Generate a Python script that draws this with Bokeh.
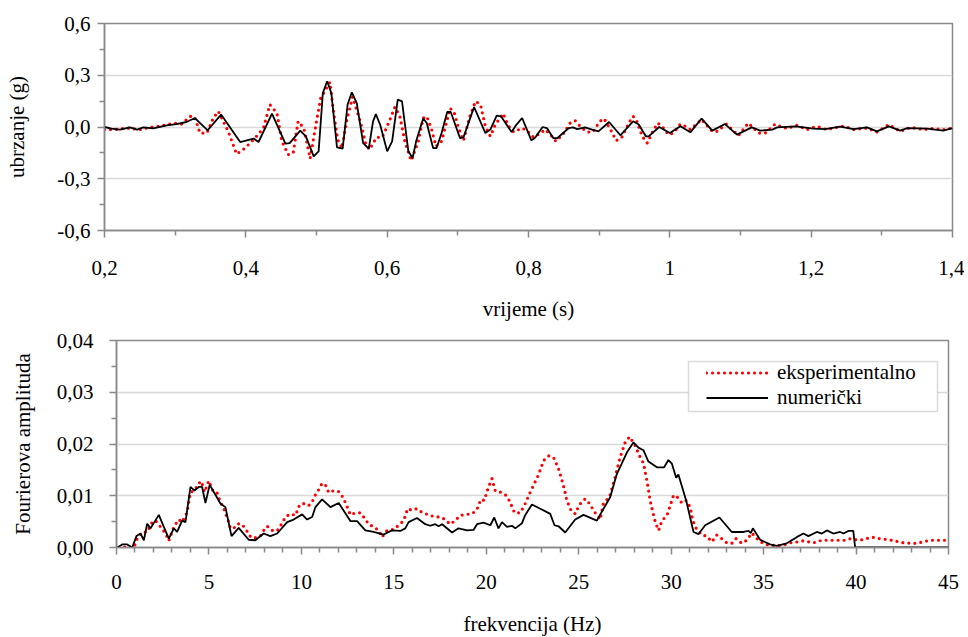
import numpy as np
from bokeh.plotting import figure
from bokeh.layouts import column
from bokeh.models import Range1d, FixedTicker, Legend, LegendItem, BoxAnnotation
from bokeh.embed import file_html
from bokeh.resources import INLINE

# ---------------- data: time history (top) ----------------
t_num = [0.200, 0.210, 0.222, 0.236, 0.246, 0.255, 0.269, 0.288, 0.302, 0.316,
         0.328, 0.346, 0.365, 0.392, 0.411, 0.418, 0.437, 0.456, 0.462, 0.477,
         0.485, 0.496, 0.503, 0.509, 0.515, 0.521, 0.529, 0.537, 0.544, 0.550,
         0.557, 0.566, 0.574, 0.580, 0.584, 0.590, 0.600, 0.607, 0.615, 0.621,
         0.630, 0.636, 0.641, 0.651, 0.656, 0.665, 0.670, 0.677, 0.685, 0.690,
         0.703, 0.708, 0.723, 0.739, 0.746, 0.755, 0.761, 0.776, 0.783, 0.791,
         0.804, 0.809, 0.820, 0.826, 0.835, 0.841, 0.857, 0.863, 0.869, 0.880,
         0.890, 0.899, 0.914, 0.930, 0.948, 0.956, 0.966, 0.970, 0.985, 1.000,
         1.015, 1.029, 1.045, 1.060, 1.078, 1.095, 1.116, 1.128, 1.145, 1.152,
         1.178, 1.203, 1.220, 1.241, 1.260, 1.279, 1.293, 1.310, 1.326, 1.336,
         1.364, 1.387, 1.400]
a_num = [0.000, -0.009, -0.015, -0.002, -0.015, -0.002, -0.008, 0.010, 0.017, 0.029,
         0.052, -0.019, 0.072, -0.087, -0.067, -0.087, 0.078, -0.096, -0.093, -0.021,
         -0.054, -0.170, -0.141, 0.197, 0.265, 0.197, -0.118, -0.125, 0.130, 0.201,
         0.139, -0.093, -0.125, 0.033, 0.075, 0.014, -0.141, -0.083, 0.159, 0.149,
         -0.141, -0.180, -0.083, 0.049, 0.023, -0.122, -0.122, -0.035, 0.087, 0.087,
         -0.064, -0.060, 0.116, -0.035, -0.015, 0.066, 0.062, -0.029, 0.014, 0.052,
         -0.077, -0.064, 0.000, -0.006, -0.064, -0.064, -0.006, -0.002, -0.012, -0.002,
         -0.015, -0.025, 0.029, -0.048, 0.033, 0.014, -0.054, -0.054, 0.000, -0.035,
         0.004, -0.031, 0.049, -0.021, 0.017, -0.044, -0.002, -0.021, -0.015, -0.002,
         0.004, -0.009, -0.012, 0.002, -0.012, -0.002, -0.025, 0.004, -0.021, -0.006,
         -0.009, -0.021, -0.006]

t_exp = [0.200, 0.215, 0.232, 0.250, 0.265, 0.283, 0.298, 0.309, 0.321, 0.328,
         0.335, 0.345, 0.354, 0.361, 0.375, 0.387, 0.399, 0.413, 0.425, 0.434,
         0.444, 0.451, 0.460, 0.467, 0.474, 0.482, 0.491, 0.500, 0.506, 0.519,
         0.524, 0.530, 0.536, 0.543, 0.551, 0.562, 0.570, 0.575, 0.585, 0.593,
         0.602, 0.611, 0.618, 0.625, 0.634, 0.644, 0.651, 0.656, 0.663, 0.669,
         0.677, 0.685, 0.689, 0.695, 0.701, 0.708, 0.717, 0.725, 0.732, 0.739,
         0.746, 0.753, 0.764, 0.772, 0.779, 0.791, 0.799, 0.807, 0.817, 0.824,
         0.833, 0.839, 0.850, 0.859, 0.866, 0.873, 0.883, 0.891, 0.901, 0.907,
         0.918, 0.924, 0.932, 0.942, 0.948, 0.953, 0.961, 0.968, 0.976, 0.983,
         0.991, 0.998, 1.005, 1.015, 1.022, 1.029, 1.045, 1.060, 1.067, 1.080,
         1.097, 1.111, 1.126, 1.135, 1.149, 1.156, 1.166, 1.180, 1.194, 1.208,
         1.222, 1.246, 1.260, 1.279, 1.293, 1.310, 1.326, 1.341, 1.359, 1.373,
         1.387, 1.400]
a_exp = [-0.015, -0.015, -0.006, -0.015, -0.002, 0.008, 0.023, 0.017, 0.062, 0.056,
         -0.035, -0.035, 0.052, 0.091, -0.025, -0.157, -0.122, -0.064, -0.006, 0.130,
         0.081, -0.083, -0.160, -0.151, 0.033, -0.006, -0.183, 0.033, 0.168, 0.260,
         0.091, -0.073, -0.122, 0.043, 0.174, 0.033, -0.102, -0.131, -0.060, -0.060,
         0.023, 0.116, 0.062, -0.083, -0.195, -0.083, 0.052, 0.062, -0.015, -0.112,
         -0.083, 0.043, 0.110, 0.081, -0.006, -0.079, 0.062, 0.149, 0.130, 0.004,
         -0.054, 0.014, 0.078, 0.004, -0.029, -0.006, -0.025, -0.060, -0.035, -0.015,
         -0.054, -0.083, -0.035, 0.023, 0.037, 0.004, -0.029, -0.029, 0.033, 0.049,
         -0.029, -0.079, -0.060, 0.023, 0.062, 0.037, -0.054, -0.093, -0.025, 0.023,
         -0.006, -0.044, -0.035, 0.017, 0.004, -0.015, 0.043, -0.025, -0.025, 0.017,
         -0.050, 0.023, -0.035, -0.035, 0.017, 0.004, -0.009, 0.010, -0.015, 0.004,
         -0.015, 0.006, -0.015, -0.006, -0.029, 0.014, -0.025, -0.002, -0.015, -0.009,
         -0.015, -0.006]

# ---------------- data: Fourier spectrum (bottom) ----------------
f_num = [0.04, 0.31, 0.58, 0.85, 1.08, 1.30, 1.48, 1.66, 1.84, 2.29,
         2.56, 2.83, 3.10, 3.28, 3.55, 3.73, 4.00, 4.22, 4.45, 4.63,
         4.81, 5.04, 5.35, 5.62, 5.89, 6.22, 6.61, 7.15, 7.51, 7.96,
         8.32, 8.69, 9.23, 9.58, 10.04, 10.31, 10.58, 10.76, 11.12, 11.57,
         12.02, 12.65, 13.01, 13.46, 13.91, 14.45, 14.90, 15.35, 15.62, 15.80,
         16.25, 16.70, 16.97, 17.24, 17.42, 17.61, 18.15, 18.50, 18.96, 19.31,
         19.50, 19.85, 20.22, 20.43, 20.66, 20.85, 21.12, 21.39, 21.57, 21.93,
         22.11, 22.47, 22.92, 23.46, 23.69, 23.91, 24.27, 24.81, 25.26, 25.98,
         26.34, 26.70, 27.06, 27.61, 27.96, 28.23, 28.50, 28.77, 29.23, 29.62,
         29.85, 30.04, 30.27, 30.39, 30.81, 31.21, 31.48, 31.84, 32.61, 33.28,
         33.91, 34.18, 34.31, 34.42, 34.81, 35.35, 35.71, 36.25, 36.79, 37.15,
         37.42, 37.88, 38.15, 38.42, 38.77, 39.14, 39.32, 39.58, 39.85, 39.95,
         45.00]
amp_num = [0.0000, 0.0006, 0.0006, 0.0000, 0.0022, 0.0027, 0.0014, 0.0046, 0.0037, 0.0063,
           0.0040, 0.0017, 0.0037, 0.0030, 0.0052, 0.0049, 0.0117, 0.0110, 0.0117, 0.0117,
           0.0086, 0.0121, 0.0102, 0.0085, 0.0078, 0.0022, 0.0038, 0.0015, 0.0014, 0.0027,
           0.0022, 0.0027, 0.0049, 0.0054, 0.0064, 0.0054, 0.0059, 0.0078, 0.0093, 0.0078,
           0.0086, 0.0051, 0.0051, 0.0033, 0.0030, 0.0025, 0.0033, 0.0032, 0.0037, 0.0049,
           0.0057, 0.0045, 0.0042, 0.0045, 0.0041, 0.0045, 0.0029, 0.0037, 0.0033, 0.0034,
           0.0045, 0.0048, 0.0043, 0.0058, 0.0037, 0.0049, 0.0040, 0.0042, 0.0037, 0.0047,
           0.0063, 0.0083, 0.0075, 0.0065, 0.0043, 0.0041, 0.0029, 0.0054, 0.0063, 0.0052,
           0.0075, 0.0097, 0.0142, 0.0184, 0.0203, 0.0193, 0.0188, 0.0166, 0.0155, 0.0155,
           0.0169, 0.0162, 0.0135, 0.0141, 0.0091, 0.0030, 0.0026, 0.0043, 0.0058, 0.0030,
           0.0030, 0.0032, 0.0028, 0.0037, 0.0015, 0.0006, 0.0003, 0.0008, 0.0020, 0.0027,
           0.0022, 0.0030, 0.0027, 0.0033, 0.0027, 0.0030, 0.0027, 0.0032, 0.0032, 0.0000,
           0.0000]

f_exp = [0.12, 0.39, 0.94, 1.12, 1.39, 1.66, 1.93, 2.11, 2.38, 2.65,
         2.83, 3.10, 3.37, 3.55, 3.82, 4.00, 4.22, 4.45, 4.59, 4.76,
         4.99, 5.21, 5.41, 5.62, 5.84, 6.07, 6.16, 6.34, 6.56, 6.79,
         7.03, 7.28, 7.61, 7.78, 7.96, 8.15, 8.42, 8.69, 8.96, 9.14,
         9.41, 9.68, 9.91, 10.16, 10.39, 10.58, 10.76, 10.94, 11.12, 11.30,
         11.48, 11.75, 12.02, 12.25, 12.47, 12.65, 12.92, 13.19, 13.37, 13.64,
         13.91, 14.18, 14.36, 14.63, 14.99, 15.26, 15.53, 15.75, 15.98, 16.25,
         16.52, 16.88, 17.24, 17.51, 17.78, 18.05, 18.32, 18.59, 18.96, 19.23,
         19.50, 19.71, 19.89, 20.12, 20.31, 20.49, 20.76, 21.03, 21.26, 21.53,
         21.84, 22.11, 22.38, 22.59, 22.83, 23.10, 23.37, 23.64, 23.91, 24.15,
         24.36, 24.58, 24.81, 25.04, 25.35, 25.58, 25.89, 26.16, 26.34, 26.66,
         26.97, 27.24, 27.51, 27.75, 28.05, 28.29, 28.50, 28.72, 28.86, 29.14,
         29.32, 29.50, 29.77, 29.95, 30.13, 30.34, 30.58, 30.81, 31.03, 31.17,
         31.35, 31.66, 31.93, 32.20, 32.47, 32.74, 33.01, 33.28, 33.51, 33.82,
         34.09, 34.36, 34.72, 35.08, 35.53, 35.98, 36.43, 36.88, 37.15, 37.69,
         38.15, 38.77, 39.41, 39.68, 40.22, 40.85, 41.30, 41.94, 42.56, 43.28,
         43.64, 44.00, 45.00]
amp_exp = [0.0000, 0.0001, 0.0000, 0.0017, 0.0030, 0.0030, 0.0049, 0.0052, 0.0040, 0.0027,
           0.0013, 0.0040, 0.0054, 0.0049, 0.0068, 0.0107, 0.0110, 0.0124, 0.0128, 0.0107,
           0.0129, 0.0110, 0.0108, 0.0088, 0.0072, 0.0049, 0.0037, 0.0037, 0.0046, 0.0045,
           0.0033, 0.0019, 0.0019, 0.0022, 0.0033, 0.0041, 0.0033, 0.0032, 0.0047, 0.0059,
           0.0065, 0.0062, 0.0083, 0.0085, 0.0081, 0.0088, 0.0102, 0.0112, 0.0124, 0.0121,
           0.0106, 0.0110, 0.0108, 0.0097, 0.0079, 0.0063, 0.0067, 0.0067, 0.0059, 0.0045,
           0.0040, 0.0033, 0.0020, 0.0033, 0.0035, 0.0043, 0.0052, 0.0075, 0.0072, 0.0075,
           0.0068, 0.0063, 0.0059, 0.0059, 0.0054, 0.0045, 0.0052, 0.0062, 0.0064, 0.0065,
           0.0074, 0.0093, 0.0091, 0.0117, 0.0133, 0.0109, 0.0107, 0.0102, 0.0090, 0.0067,
           0.0067, 0.0085, 0.0107, 0.0123, 0.0141, 0.0168, 0.0177, 0.0174, 0.0152, 0.0123,
           0.0091, 0.0072, 0.0065, 0.0083, 0.0094, 0.0085, 0.0067, 0.0054, 0.0086, 0.0097,
           0.0136, 0.0174, 0.0203, 0.0214, 0.0197, 0.0177, 0.0163, 0.0123, 0.0091, 0.0049,
           0.0033, 0.0052, 0.0062, 0.0081, 0.0101, 0.0097, 0.0086, 0.0091, 0.0078, 0.0052,
           0.0037, 0.0024, 0.0022, 0.0011, 0.0024, 0.0017, 0.0009, 0.0008, 0.0017, 0.0008,
           0.0014, 0.0028, 0.0014, 0.0006, 0.0004, 0.0004, 0.0009, 0.0011, 0.0013, 0.0009,
           0.0014, 0.0014, 0.0014, 0.0017, 0.0014, 0.0020, 0.0017, 0.0014, 0.0009, 0.0008,
           0.0011, 0.0014, 0.0014]

# ---------------- ticks & labels ----------------
t_ticks = [0.2, 0.4, 0.6, 0.8, 1.0, 1.2, 1.4]
t_tick_labels = ["0,2", "0,4", "0,6", "0,8", "1", "1,2", "1,4"]
t_minor = [0.3, 0.5, 0.7, 0.9, 1.1, 1.3]
a_ticks = [-0.6, -0.3, 0.0, 0.3, 0.6]
a_tick_labels = ["-0,6", "-0,3", "0,0", "0,3", "0,6"]
a_minor = [-0.45, -0.15, 0.15, 0.45]
f_ticks = [0, 5, 10, 15, 20, 25, 30, 35, 40, 45]
f_tick_labels = ["0", "5", "10", "15", "20", "25", "30", "35", "40", "45"]
f_minor = [v for v in range(1, 45) if v % 5]
amp_ticks = [0.0, 0.01, 0.02, 0.03, 0.04]
amp_tick_labels = ["0,00", "0,01", "0,02", "0,03", "0,04"]
amp_minor = [0.005, 0.015, 0.025, 0.035]

series_names = ["eksperimentalno", "numerički"]

assert len(t_num) == len(a_num)
assert len(t_exp) == len(a_exp)
assert len(f_num) == len(amp_num)
assert len(f_exp) == len(amp_exp)

FONT = "Liberation Serif"
FS = "21px"
AX = "#898989"
GRID = "#D9D9D9"
RED = "#FF0000"


def style(p, xticks, xlabels, xminor, yticks, ylabels, yminor,
          xlab, ylab, xstand, xlabstand, ystand, ylabstand):
    p.background_fill_color = "white"
    p.border_fill_color = "white"
    p.outline_line_color = AX
    p.outline_line_width = 1.5
    if "frame_align" in p.properties():
        p.frame_align = False
    p.xaxis.ticker = FixedTicker(ticks=xticks, minor_ticks=xminor)
    p.yaxis.ticker = FixedTicker(ticks=yticks, minor_ticks=yminor)
    p.xaxis.major_label_overrides = dict(zip(xticks, xlabels))
    p.yaxis.major_label_overrides = dict(zip(yticks, ylabels))
    p.xgrid.visible = False
    p.ygrid.ticker = FixedTicker(ticks=yticks)
    p.ygrid.grid_line_color = GRID
    p.ygrid.grid_line_width = 1.5
    for ax in (p.xaxis[0], p.yaxis[0]):
        ax.axis_line_color = AX
        ax.axis_line_width = 1.5
        ax.major_tick_line_color = AX
        ax.minor_tick_line_color = AX
        ax.major_tick_line_width = 1.5
        ax.minor_tick_line_width = 1.5
        ax.major_tick_in = 0
        ax.major_tick_out = 7
        ax.minor_tick_in = 0
        ax.minor_tick_out = 5
        ax.major_label_text_font = FONT
        ax.major_label_text_font_size = FS
        ax.major_label_text_color = "black"
        ax.axis_label_text_font = FONT
        ax.axis_label_text_font_size = FS
        ax.axis_label_text_font_style = "normal"
        ax.axis_label_text_color = "black"
    p.xaxis.axis_label = xlab
    p.yaxis.axis_label = ylab
    p.xaxis.major_label_standoff = xstand
    p.xaxis.axis_label_standoff = xlabstand
    p.yaxis.major_label_standoff = ystand
    p.yaxis.axis_label_standoff = ylabstand


def make_legend(items, loc, visible_text=True):
    lg = Legend(items=items, location=loc)
    lg.border_line_alpha = 0
    lg.background_fill_alpha = 0
    lg.label_text_font = FONT
    lg.label_text_font_size = FS
    lg.label_text_color = "black"
    lg.label_text_alpha = 1.0 if visible_text else 0.0
    lg.glyph_width = 62
    lg.glyph_height = 21
    lg.label_height = 21
    lg.padding = 1
    lg.spacing = -4
    lg.label_standoff = 9
    lg.margin = 0
    return lg


# ---------------- top figure ----------------
p1 = figure(frame_width=848, frame_height=207,
            min_border_left=104, min_border_right=12, min_border_top=23, min_border_bottom=95,
            x_range=Range1d(0.2, 1.4), y_range=Range1d(-0.6, 0.6),
            output_backend="svg", toolbar_location=None)
style(p1, t_ticks, t_tick_labels, t_minor, a_ticks, a_tick_labels, a_minor,
      "vrijeme (s)", "ubrzanje (g)", 23, 19, 7, 25)
r1_exp = p1.line(t_exp, a_exp, line_color=RED, line_width=3.2, line_dash="0 6", line_cap="round")
r1_num = p1.line(t_num, a_num, line_color="black", line_width=1.8)
r1_hidden = p1.line(t_num[:1], a_num[:1], line_alpha=0)
p1.add_layout(make_legend([LegendItem(label=series_names[1], renderers=[r1_hidden])],
                          (600, 150), visible_text=False))

# ---------------- bottom figure ----------------
p2 = figure(frame_width=832, frame_height=207,
            min_border_left=116, min_border_right=16, min_border_top=15, min_border_bottom=90,
            x_range=Range1d(0, 45), y_range=Range1d(0, 0.04),
            output_backend="svg", toolbar_location=None)
style(p2, f_ticks, f_tick_labels, f_minor, amp_ticks, amp_tick_labels, amp_minor,
      "frekvencija (Hz)", "Fourierova amplituda", 20, 20, 16, 19)
r_exp = p2.line(f_exp, amp_exp, line_color=RED, line_width=3.2, line_dash="0 6", line_cap="round")
r_num = p2.line(f_num, amp_num, line_color="black", line_width=1.8)

# legend frame (white box with grey border) + legend entries
p2.add_layout(BoxAnnotation(left=572, right=821, bottom=136, top=186,
                            left_units="screen", right_units="screen",
                            bottom_units="screen", top_units="screen",
                            fill_color="white", fill_alpha=1.0,
                            line_color=AX, line_width=1.5))
p2.add_layout(make_legend([LegendItem(label=series_names[0], renderers=[r_exp]),
                           LegendItem(label=series_names[1], renderers=[r_num])],
                          (589, 136)))

layout = column(p1, p2)
open("out.html", "w").write(file_html(layout, INLINE))
